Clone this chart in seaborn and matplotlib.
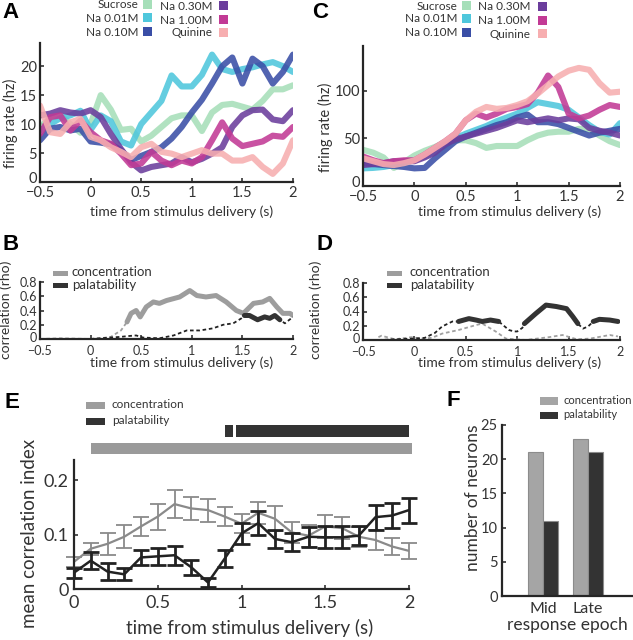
import numpy as np
import pandas as pd
import seaborn as sns
import matplotlib.pyplot as plt
from matplotlib.patches import Rectangle
from matplotlib.transforms import ScaledTranslation

# ---- data ----
tastes = ["Sucrose", "Na 0.01M", "Na 0.10M", "Na 0.30M", "Na 1.00M", "Quinine"]
taste_colors = ["#a6dfb9", "#4fc7dc", "#3a4ea6", "#6b3d9c", "#c23a95", "#f7aeb0"]

t_psth = np.round(np.arange(-0.5, 2.01, 0.1), 2)

# panel A, firing rate (hz)
a_sucrose = [9.5, 11, 11.5, 10, 8.5, 10, 15, 12.5, 9, 9.2, 7, 8, 9.5, 11, 11.5, 11.5, 8.8, 12, 13.3, 13.5, 13, 12.5, 14, 16, 16, 16.7]
a_na001 = [8.9, 10, 11, 11.5, 12.3, 9, 11.5, 10.5, 7, 6.3, 10, 12, 14, 18.4, 16.5, 16.5, 18.5, 22, 19.5, 19, 19.5, 19.8, 20.3, 20.7, 20, 19]
a_na010 = [7.2, 9.2, 9.5, 8.9, 9.2, 7, 6.8, 6.5, 5.5, 3.8, 4.5, 5.2, 6, 7.5, 9.5, 12, 14.2, 17, 20, 21.5, 17, 21.3, 20, 17, 19, 22]
a_na030 = [11.5, 11.8, 12.4, 12, 11.8, 12.4, 11.2, 8.3, 5.7, 3.4, 2, 2.6, 2.9, 3.2, 4.3, 3.4, 4, 4.9, 6, 9.5, 11.5, 12.4, 12.5, 10.8, 10.5, 12.4]
a_na100 = [8.3, 11.2, 11.5, 8.9, 10.6, 8.6, 7.2, 6.6, 4.9, 2.9, 3.2, 5.2, 3.7, 2.9, 3.7, 3.2, 4.3, 7.2, 10.3, 7.5, 6.2, 6.6, 7, 8, 7.8, 9.5]
a_quinine = [13.2, 8.6, 8.3, 10.3, 10.9, 7.8, 7.2, 6, 5.2, 4.3, 6, 6.6, 5.2, 4.9, 4.3, 4.9, 5.5, 4.9, 4.9, 3.7, 3.7, 4.3, 2.6, 1.4, 3.2, 7.2]

# panel C, firing rate (hz)
c_sucrose = [38, 35, 30, 19, 25, 32, 37, 41, 46, 48, 48, 45, 40, 42, 42, 42, 48, 53, 56, 57, 57, 60, 60, 53, 47, 43]
c_na001 = [18.5, 19, 20, 22, 25, 27, 31, 36, 43, 50, 55, 59, 63, 68, 72, 76, 82, 88, 86, 84, 80, 72, 64, 57, 54, 66]
c_na010 = [24, 23, 22, 21, 20, 18.5, 19, 29, 38, 47, 52, 56, 60, 64, 67, 72, 75, 67, 67, 65, 61, 57, 53, 56, 58, 60]
c_na030 = [22, 23, 24, 26, 26, 26, 30, 35, 44, 49, 52, 55, 58, 61, 65, 69, 67, 69, 71, 69, 71, 70, 61, 58, 56, 53]
c_na100 = [31, 27, 24, 26, 27, 27, 33, 40, 47, 55, 69, 76, 72, 76, 81, 83, 86, 98, 116, 104, 76, 71, 74, 80, 85, 83]
c_quinine = [29, 26, 23, 22, 24, 27, 33, 40, 47, 55, 69, 78, 83, 81, 82, 85, 89, 97, 106, 115, 121, 124, 122, 108, 98, 99]

# panel B, correlation (rho)
b_conc_t = [-0.5, -0.3, 0.0, 0.1, 0.2, 0.3, 0.36, 0.4, 0.45, 0.49, 0.55, 0.62, 0.68, 0.75, 0.88, 0.98, 1.05,
            1.14, 1.24, 1.34, 1.44, 1.51, 1.61, 1.7, 1.77, 1.84, 1.9, 1.97, 2.0]
b_conc = [0.0, 0.01, 0.0, 0.01, 0.03, 0.12, 0.24, 0.36, 0.4, 0.31, 0.45, 0.52, 0.5, 0.54, 0.59, 0.68, 0.61,
          0.59, 0.61, 0.52, 0.4, 0.36, 0.5, 0.52, 0.57, 0.45, 0.36, 0.36, 0.33]
b_conc_sig = [(0.36, 2.0)]
b_pal_t = [-0.5, 0.0, 0.19, 0.3, 0.36, 0.45, 0.52, 0.68, 0.82, 0.95, 1.08, 1.21, 1.31, 1.41, 1.49, 1.52,
           1.57, 1.65, 1.72, 1.77, 1.82, 1.87, 1.92, 2.0]
b_pal = [0.0, 0.0, 0.02, 0.03, 0.04, 0.05, 0.02, 0.01, 0.05, 0.12, 0.12, 0.15, 0.2, 0.22, 0.29, 0.33,
         0.33, 0.27, 0.31, 0.29, 0.33, 0.27, 0.22, 0.31]
b_pal_sig = [(1.52, 1.87)]

# panel D, correlation (rho)
d_conc_t = [-0.35, -0.32, -0.19, -0.03, 0.07, 0.17, 0.27, 0.43, 0.6, 0.66, 0.79, 0.89, 1.08, 1.31, 1.44,
            1.58, 1.71, 1.9, 1.98]
d_conc = [0.04, 0.06, 0.01, 0.04, 0.02, 0.03, 0.09, 0.14, 0.21, 0.23, 0.12, 0.02, 0.0, 0.04, 0.07,
          0.01, 0.02, 0.07, 0.05]
d_conc_sig = []
d_pal_t = [-0.35, 0.0, 0.1, 0.2, 0.27, 0.37, 0.43, 0.53, 0.6, 0.66, 0.74, 0.82, 0.92, 0.97, 1.0, 1.05,
           1.07, 1.18, 1.28, 1.38, 1.48, 1.54, 1.59, 1.64, 1.69, 1.74, 1.8, 1.9, 1.98]
d_pal = [0.0, 0.02, 0.03, 0.1, 0.19, 0.26, 0.26, 0.3, 0.28, 0.26, 0.28, 0.26, 0.14, 0.12, 0.12, 0.17,
         0.23, 0.37, 0.49, 0.47, 0.44, 0.33, 0.23, 0.16, 0.19, 0.26, 0.29, 0.28, 0.26]
d_pal_sig = [(0.43, 0.84), (1.07, 1.59), (1.74, 2.0)]

# panel E, mean correlation index with error bars
t_e = np.round(np.arange(0, 2.01, 0.1), 2)
e_conc = [0.05, 0.074, 0.083, 0.096, 0.115, 0.133, 0.156, 0.148, 0.145, 0.133, 0.12, 0.14, 0.129, 0.104,
          0.098, 0.115, 0.112, 0.096, 0.09, 0.078, 0.07]
e_conc_err = [0.009, 0.011, 0.02, 0.021, 0.018, 0.024, 0.026, 0.021, 0.021, 0.018, 0.018, 0.02, 0.023,
              0.02, 0.02, 0.021, 0.021, 0.018, 0.018, 0.015, 0.014]
e_pal = [0.03, 0.052, 0.032, 0.027, 0.058, 0.06, 0.062, 0.04, 0.012, 0.056, 0.102, 0.121, 0.092, 0.086,
         0.096, 0.095, 0.095, 0.098, 0.132, 0.135, 0.145]
e_pal_err = [0.009, 0.016, 0.015, 0.011, 0.013, 0.015, 0.017, 0.014, 0.009, 0.015, 0.02, 0.022, 0.017,
             0.017, 0.018, 0.02, 0.02, 0.017, 0.023, 0.023, 0.023]
e_conc_sig = [(0.1, 2.0)]
e_pal_sig = [(0.9, 0.95), (0.97, 2.0)]

# panel F, number of neurons
epochs = ["Mid", "Mid", "Late", "Late"]
measures = ["concentration", "palatability", "concentration", "palatability"]
n_neurons = [21, 11, 23, 21]

conc_col = "#9d9d9d"
pal_col = "#333333"
txt_col = "#333333"

# ---- figure ----
sns.set_theme(style="ticks")
plt.rcParams["font.family"] = ["Lato", "DejaVu Sans"]
plt.rcParams["axes.linewidth"] = 1.6
plt.rcParams["xtick.direction"] = "in"
plt.rcParams["ytick.direction"] = "in"

W, H = 633, 640
fig = plt.figure(figsize=(W / 100, H / 100), dpi=100)


def px_axes(l, t, r, b):
    return fig.add_axes([l / W, 1 - b / H, (r - l) / W, (b - t) / H])


def ftext(x, y, s, **kw):
    kw.setdefault("color", txt_col)
    fig.text(x / W, 1 - y / H, s, **kw)


def fbox(x0, y0, x1, y1, color):
    fig.add_artist(Rectangle((x0 / W, 1 - y1 / H), (x1 - x0) / W, (y1 - y0) / H,
                             transform=fig.transFigure, color=color, lw=0))


def style_time_axis(ax, ylim, yticks, ylabels=None, size=10, xpad=1, lift0=0):
    sns.despine(ax=ax)
    ax.set_xlim(-0.5, 2)
    ax.set_ylim(*ylim)
    ax.set_xticks([-0.5, 0, 0.5, 1, 1.5, 2])
    ax.set_xticklabels(["\u22120.5", "0", "0.5", "1", "1.5", "2"])
    ax.set_yticks(yticks)
    if ylabels is not None:
        ax.set_yticklabels(ylabels)
    ax.tick_params(labelsize=size, length=3, width=1.2, colors=txt_col)
    ax.tick_params(axis="x", pad=xpad)
    ax.tick_params(axis="y", pad=2)
    ax.set_xlabel("")
    ax.set_ylabel("")
    if lift0:
        # lift the "0" a little so it does not sit on the "-0.5"
        lab0 = ax.get_yticklabels()[0]
        lab0.set_transform(lab0.get_transform() + ScaledTranslation(0, lift0 / 72, fig.dpi_scale_trans))


# panels A and C
psth = [(px_axes(40, 43, 293, 182), [a_sucrose, a_na001, a_na010, a_na030, a_na100, a_quinine], (0, 24), [0, 5, 10, 15, 20]),
        (px_axes(363, 46, 620, 186), [c_sucrose, c_na001, c_na010, c_na030, c_na100, c_quinine], (0, 147), [0, 50, 100])]
for ax, series, ylim, yt in psth:
    for vals, col in zip(series, taste_colors):
        sns.lineplot(x=t_psth, y=vals, ax=ax, color=col, lw=4.4, alpha=0.88)
    style_time_axis(ax, ylim, yt, size=10.5, xpad=3, lift0=3)

# legends of A and C
for x_end, x_end2, dy in [(138, 212, 0), (457, 531, 1)]:
    rows1 = [5, 18, 32]
    rows2 = [6, 20, 33]
    for i in range(3):
        ftext(x_end, rows1[i] + dy, tastes[i], ha="right", va="center", fontsize=8.5)
        fbox(x_end + 5, rows1[i] + dy - 5, x_end + 14, rows1[i] + dy + 4, taste_colors[i])
        ftext(x_end2, rows2[i] + dy, tastes[i + 3], ha="right", va="center", fontsize=8.5)
        fbox(x_end2 + 7, rows2[i] + dy - 5, x_end2 + 16, rows2[i] + dy + 4, taste_colors[i + 3])

ftext(10, 123, "firing rate (hz)", rotation=90, ha="center", va="center", fontsize=10.5)
ftext(325, 127, "firing rate (hz)", rotation=90, ha="center", va="center", fontsize=10.5)
ftext(182, 212, "time from stimulus delivery (s)", ha="center", va="center", fontsize=10)
ftext(510, 212, "time from stimulus delivery (s)", ha="center", va="center", fontsize=10)


# panels B and D
def draw_rho(ax, t, v, sig, col, dash_col):
    t = np.asarray(t)
    v = np.asarray(v)
    sns.lineplot(x=t, y=v, ax=ax, color=dash_col, lw=1.3, linestyle=(0, (2, 1.5)))
    for s, e in sig:
        m = (t >= s - 1e-9) & (t <= e + 1e-9)
        sns.lineplot(x=t[m], y=v[m], ax=ax, color=col, lw=3.6)


rho_panels = [(px_axes(40, 282, 293, 339), b_conc_t, b_conc, b_conc_sig, b_pal_t, b_pal, b_pal_sig),
              (px_axes(363, 283, 620, 340), d_conc_t, d_conc, d_conc_sig, d_pal_t, d_pal, d_pal_sig)]
for ax, ct, cv, cs, pt, pv, ps in rho_panels:
    draw_rho(ax, ct, cv, cs, conc_col, "#a0a0a0")
    draw_rho(ax, pt, pv, ps, pal_col, "#222222")
    style_time_axis(ax, (0, 0.8), [0, 0.2, 0.4, 0.6, 0.8], ["0", "0.2", "0.4", "0.6", "0.8"],
                    size=9, xpad=4, lift0=1.5)

for x0, x1, xt in [(53, 68, 72), (387, 402, 410)]:
    fbox(x0, 271, x1, 276, conc_col)
    fbox(x0, 283, x1, 288, pal_col)
    ftext(xt, 272, "concentration", ha="left", va="center", fontsize=9.5)
    ftext(xt, 285, "palatability", ha="left", va="center", fontsize=9.5)

ftext(6, 310, "correlation (rho)", rotation=90, ha="center", va="center", fontsize=10)
ftext(316, 310, "correlation (rho)", rotation=90, ha="center", va="center", fontsize=10)
ftext(182, 363, "time from stimulus delivery (s)", ha="center", va="center", fontsize=10)
ftext(510, 363, "time from stimulus delivery (s)", ha="center", va="center", fontsize=10)

# panel E
ax_e = px_axes(74, 460, 409, 589)
sns.lineplot(x=t_e, y=e_conc, ax=ax_e, color="#8a8a8a", lw=1.6)
ax_e.errorbar(t_e, e_conc, yerr=e_conc_err, fmt="none", ecolor="#8a8a8a", elinewidth=1.3, capsize=6,
              capthick=1.3, clip_on=False)
sns.lineplot(x=t_e, y=e_pal, ax=ax_e, color="#222222", lw=1.8)
ax_e.errorbar(t_e, e_pal, yerr=e_pal_err, fmt="none", ecolor="#222222", elinewidth=2, capsize=6,
              capthick=2, clip_on=False)
sns.despine(ax=ax_e)
ax_e.set_xlim(0, 2)
ax_e.set_ylim(0, 0.237)
ax_e.set_xticks([0, 0.5, 1, 1.5, 2])
ax_e.set_xticklabels(["0", "0.5", "1", "1.5", "2"])
ax_e.set_yticks([0, 0.1, 0.2])
ax_e.set_yticklabels(["0", "0.1", "0.2"])
ax_e.tick_params(labelsize=13, length=3, width=1.2, pad=4, colors=txt_col)
ax_e.set_xlabel("")
ax_e.set_ylabel("")

ax_sig = px_axes(74, 420, 409, 458)
ax_sig.set_xlim(0, 2)
ax_sig.set_ylim(0, 1)
ax_sig.axis("off")
for s, e in e_conc_sig:
    ax_sig.add_patch(Rectangle((s, 0.1), e - s + 0.015, 0.3, color="#9a9a9a", lw=0, clip_on=False))
for s, e in e_pal_sig:
    ax_sig.add_patch(Rectangle((s, 0.55), e - s, 0.32, color="#333333", lw=0, clip_on=False))

fbox(86, 402, 105, 409, conc_col)
fbox(86, 418, 105, 425, pal_col)
ftext(112, 405, "concentration", ha="left", va="center", fontsize=8.5)
ftext(112, 421, "palatability", ha="left", va="center", fontsize=8.5)
ftext(30, 533, "mean correlation index", rotation=90, ha="center", va="center", fontsize=13.5)
ftext(250, 628, "time from stimulus delivery (s)", ha="center", va="center", fontsize=13.5)

# panel F
ax_f = px_axes(502, 425, 632, 596)
df_f = pd.DataFrame({"epoch": epochs, "measure": measures, "n": n_neurons})
sns.barplot(data=df_f, x="epoch", y="n", hue="measure", ax=ax_f, width=0.667, saturation=1,
            palette={"concentration": "#a5a5a5", "palatability": "#333333"}, legend=False,
            edgecolor="#8c8c8c", linewidth=0.8)
sns.despine(ax=ax_f)
ax_f.set_xlim(-0.91, 1.98)
ax_f.set_ylim(0, 25)
ax_f.set_yticks([0, 5, 10, 15, 20, 25])
ax_f.tick_params(axis="y", labelsize=10.5, length=3, width=1.2, pad=3, colors=txt_col)
ax_f.tick_params(axis="x", labelsize=11.5, length=0, pad=4, colors=txt_col)
ax_f.set_xlabel("")
ax_f.set_ylabel("")
fbox(540, 397, 558, 405, "#a5a5a5")
fbox(540, 412, 558, 419, pal_col)
ftext(563, 400, "concentration", ha="left", va="center", fontsize=8)
ftext(563, 415, "palatability", ha="left", va="center", fontsize=8)
ftext(473, 498, "number of neurons", rotation=90, ha="center", va="center", fontsize=12.5)
ftext(567, 625, "response epoch", ha="center", va="center", fontsize=12.5)

# panel letters
for letter, x, y in [("A", 2, 12), ("C", 312, 12), ("B", 3, 245), ("D", 317, 245), ("E", 5, 403), ("F", 447, 401)]:
    ftext(x, y, letter, ha="left", va="center", fontsize=16, fontweight="bold",
          family=["Liberation Sans", "DejaVu Sans"], color="black")

fig.savefig("out.png", dpi=100)
